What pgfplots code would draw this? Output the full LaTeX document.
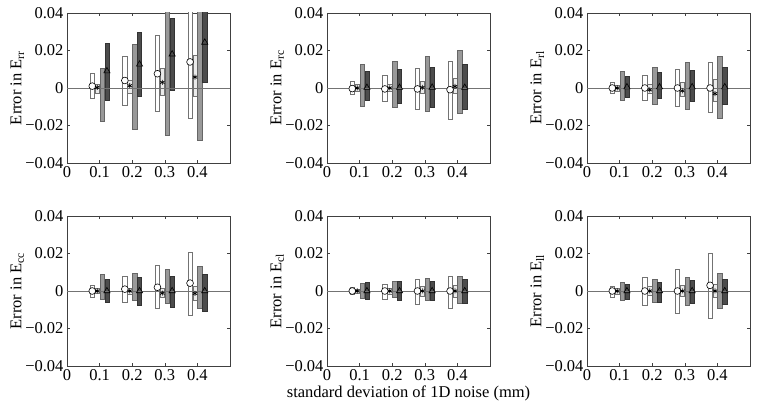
\documentclass[border=0pt]{standalone}
\usepackage{fontspec}
\setmainfont{Liberation Serif}
\usepackage{pgfplots}
\usepackage{pgfplotstable}
\pgfplotsset{compat=1.18}

% columns: x, white bar (lo1 hi1 mean m1), light bar (lo2 hi2 m2), mid bar (lo3 hi3), dark bar (lo4 hi4 m4)
\pgfplotstableread{
x    lo1     hi1    m1      lo2     hi2    m2      lo3     hi3    lo4     hi4    m4
0.1 -0.0054 0.0076 0.0010 -0.0030 0.0022 0.0003 -0.0177 0.0103 -0.0067 0.0238 0.0090
0.2 -0.0094 0.0170 0.0040 -0.0027 0.0040 0.0012 -0.0222 0.0234 -0.0043 0.0295 0.0126
0.3 -0.0126 0.0283 0.0076 -0.0040 0.0105 0.0030 -0.0250 0.0500 -0.0010 0.0370 0.0180
0.4 -0.0159 0.0500 0.0139 -0.0045 0.0172 0.0058 -0.0280 0.0500  0.0032 0.0500 0.0243
}\Err
\pgfplotstableread{
x    lo1     hi1    m1      lo2     hi2    m2      lo3     hi3    lo4     hi4    m4
0.1 -0.0036 0.0036 -0.0003 -0.0018 0.0018 0.0000 -0.0095 0.0127 -0.0065 0.0090 0.0002
0.2 -0.0073 0.0069 -0.0005 -0.0020 0.0020 0.0000 -0.0105 0.0140 -0.0080 0.0100 0.0002
0.3 -0.0115 0.0104 -0.0005 -0.0027 0.0036 0.0003 -0.0122 0.0169 -0.0105 0.0113 0.0003
0.4 -0.0167 0.0142 -0.0009 -0.0030 0.0050 0.0008 -0.0136 0.0200 -0.0113 0.0127 0.0002
}\Erc
\pgfplotstableread{
x    lo1     hi1    m1      lo2     hi2    m2      lo3     hi3    lo4     hi4    m4
0.1 -0.0027 0.0030 0.0000 -0.0015 0.0015 0.0000 -0.0064 0.0087 -0.0050 0.0065 0.0005
0.2 -0.0064 0.0067 0.0000 -0.0027 0.0018 -0.0010 -0.0087 0.0110 -0.0055 0.0082 0.0005
0.3 -0.0095 0.0100 0.0000 -0.0045 0.0033 -0.0015 -0.0115 0.0136 -0.0070 0.0095 0.0005
0.4 -0.0127 0.0136 0.0000 -0.0073 0.0045 -0.0030 -0.0160 0.0167 -0.0087 0.0110 0.0005
}\Erl
\pgfplotstableread{
x    lo1     hi1    m1      lo2     hi2    m2      lo3     hi3    lo4     hi4    m4
0.1 -0.0034 0.0033 0.0000 -0.0012 0.0012 0.0000 -0.0043 0.0087 -0.0058 0.0065 0.0000
0.2 -0.0058 0.0081 0.0010 -0.0020 0.0015 0.0000 -0.0052 0.0096 -0.0076 0.0072 0.0000
0.3 -0.0094 0.0138 0.0020 -0.0034 0.0015 -0.0012 -0.0067 0.0114 -0.0089 0.0078 0.0000
0.4 -0.0130 0.0208 0.0042 -0.0049 0.0024 -0.0013 -0.0094 0.0132 -0.0109 0.0090 0.0000
}\Ecc
\pgfplotstableread{
x    lo1     hi1    m1      lo2     hi2    m2      lo3     hi3    lo4     hi4    m4
0.1 -0.0020 0.0020 0.0000 -0.0010 0.0010 0.0000 -0.0040 0.0040 -0.0043 0.0045 0.0000
0.2 -0.0045 0.0038 0.0000 -0.0015 0.0015 0.0000 -0.0034 0.0054 -0.0049 0.0050 0.0000
0.3 -0.0070 0.0060 0.0000 -0.0030 0.0027 0.0000 -0.0049 0.0067 -0.0052 0.0054 0.0000
0.4 -0.0094 0.0081 0.0000 -0.0036 0.0033 0.0000 -0.0063 0.0078 -0.0063 0.0060 0.0000
}\Ecl
\pgfplotstableread{
x    lo1     hi1    m1      lo2     hi2    m2      lo3     hi3    lo4     hi4    m4
0.1 -0.0036 0.0027 0.0000 -0.0015 0.0015 0.0000 -0.0049 0.0047 -0.0045 0.0038 0.0000
0.2 -0.0078 0.0072 0.0000 -0.0025 0.0024 0.0000 -0.0058 0.0060 -0.0058 0.0047 0.0000
0.3 -0.0121 0.0118 0.0000 -0.0030 0.0033 0.0000 -0.0076 0.0072 -0.0067 0.0056 0.0000
0.4 -0.0143 0.0200 0.0030 -0.0036 0.0038 0.0000 -0.0094 0.0096 -0.0070 0.0060 0.0000
}\Ell

% floating bars: table, lo column, hi column, x offset, style
\newcommand{\fbars}[5]{%
  \pgfplotsinvokeforeach{0,1,2,3}{%
    \pgfplotstablegetelem{##1}{x}\of{#1}\let\bx\pgfplotsretval
    \pgfplotstablegetelem{##1}{#2}\of{#1}\let\blo\pgfplotsretval
    \pgfplotstablegetelem{##1}{#3}\of{#1}\let\bhi\pgfplotsretval
    \pgfmathsetmacro\xa{\bx+#4-0.0066}%
    \pgfmathsetmacro\xb{\bx+#4+0.0066}%
    \edef\tmp{\noexpand\addplot[#5] coordinates {(\xa,\blo) (\xb,\blo) (\xb,\bhi) (\xa,\bhi)} --cycle;}\tmp
  }}

\newcommand{\drawpanel}[1]{%
  \fbars{#1}{lo1}{hi1}{-0.0225}{fill=white, draw=black!55, line width=0.5pt}
  \fbars{#1}{lo2}{hi2}{-0.0075}{fill=black!8, draw=black!55, line width=0.5pt}
  \fbars{#1}{lo3}{hi3}{0.0075}{fill=black!40, draw=black!60, line width=0.5pt}
  \fbars{#1}{lo4}{hi4}{0.0225}{fill=black!70, draw=black!80, line width=0.5pt}
  \addplot[black!55, line width=0.6pt] coordinates {(0,0) (0.5,0)};
  \addplot[only marks, mark=*, mark size=3.4pt, mark options={fill=white, draw=black, line width=0.6pt}]
    table[x expr=\thisrow{x}-0.0225, y=m1]{#1};
  \addplot[only marks, mark=asterisk, mark size=2.5pt, mark options={black, line width=0.7pt}]
    table[x expr=\thisrow{x}-0.0075, y=m2]{#1};
  \addplot[only marks, mark=triangle, mark size=3.6pt, mark options={black, line width=0.6pt}]
    table[x expr=\thisrow{x}+0.0225, y=m4]{#1};
}

\pgfplotsset{
  panel/.style={
    scale only axis, width=163pt, height=150pt, anchor=south west,
    xmin=0, xmax=0.5, ymin=-0.04, ymax=0.04,
    scaled x ticks=false, scaled y ticks=false,
    xtick={0,0.1,0.2,0.3,0.4}, xticklabels={0,0.1,0.2,0.3,0.4},
    ytick={-0.04,-0.02,0,0.02,0.04}, yticklabels={−0.04,−0.02,0,0.02,0.04},
    tick align=inside, tick pos=both, major tick length=3pt,
    axis line style={black!75, line width=0.6pt}, tick style={black!75, line width=0.5pt},
    ticklabel style={font=\fontsize{16.5}{16}\selectfont},
    label style={font=\fontsize{16.5}{17}\selectfont},
    ylabel style={at={(axis description cs:-0.305,0.5)}, anchor=center},
    xlabel style={at={(axis description cs:0.5,-0.185)}, anchor=center},
  }
}

\begin{document}
\begin{tikzpicture}
\useasboundingbox (0pt,0pt) rectangle (760pt,411pt);

\begin{axis}[panel, at={(67pt,248pt)}, ylabel={Error in E\textsubscript{rr}}]
\drawpanel{\Err}
\end{axis}

\begin{axis}[panel, at={(327pt,248pt)}, ylabel={Error in E\textsubscript{rc}}]
\drawpanel{\Erc}
\end{axis}

\begin{axis}[panel, at={(587pt,248pt)}, ylabel={Error in E\textsubscript{rl}}]
\drawpanel{\Erl}
\end{axis}

\begin{axis}[panel, at={(67pt,45pt)}, ylabel={Error in E\textsubscript{cc}}]
\drawpanel{\Ecc}
\end{axis}

\begin{axis}[panel, at={(327pt,45pt)}, ylabel={Error in E\textsubscript{cl}},
  xlabel={standard deviation of 1D noise (mm)}]
\drawpanel{\Ecl}
\end{axis}

\begin{axis}[panel, at={(587pt,45pt)}, ylabel={Error in E\textsubscript{ll}}]
\drawpanel{\Ell}
\end{axis}

\end{tikzpicture}
\end{document}
